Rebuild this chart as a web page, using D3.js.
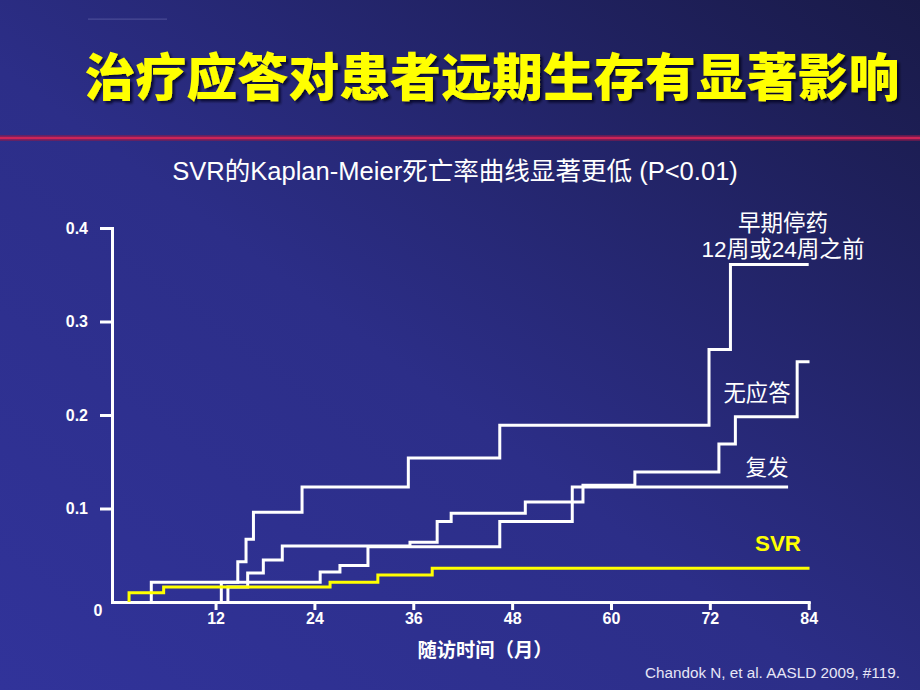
<!DOCTYPE html>
<html>
<head>
<meta charset="utf-8">
<script src="https://cdn.jsdelivr.net/npm/d3@7/dist/d3.min.js"></script>
<style>
  html, body { margin: 0; padding: 0; background: #22246a; }
  svg { display: block; }
  .lat { font-family: "Liberation Sans", Arial, "Noto Sans CJK SC", sans-serif; }
  .cjk { font-family: "Liberation Sans", Arial, "Noto Sans CJK SC", sans-serif; }
</style>
</head>
<body>
<script>
// ---------- data ----------
const xTicks = [12, 24, 36, 48, 60, 72, 84];
const yTicks = [0.1, 0.2, 0.3, 0.4];
const yTickLabels = ["0.1", "0.2", "0.3", "0.4"];

// Early discontinuation (before week 12 or 24)
const earlyTimes  = [4.2, 14.7, 15.7, 16.6, 22.5, 35.4, 46.5, 71.9, 74.5];
const earlyValues = [0.021, 0.043, 0.067, 0.096, 0.123, 0.154, 0.189, 0.270, 0.361];
const earlyEnd = 84;

// Non-response
const nonRespTimes  = [13.5, 15.9, 17.8, 20.1, 35.6, 38.9, 40.6, 49.6, 56.6, 62.9, 73.1, 75.1, 82.6];
const nonRespValues = [0.016, 0.031, 0.045, 0.060, 0.064, 0.086, 0.095, 0.107, 0.125, 0.139, 0.169, 0.198, 0.257];
const nonRespEnd = 84.1;

// Relapse
const relapseTimes  = [12.7, 24.7, 27.1, 30.5, 46.5, 55.3];
const relapseValues = [0.021, 0.032, 0.039, 0.059, 0.086, 0.123];
const relapseEnd = 81.5;

// SVR
const svrTimes  = [1.5, 5.7, 25.9, 31.7, 38.3];
const svrValues = [0.010, 0.016, 0.021, 0.029, 0.036];
const svrEnd = 84.1;

const seriesNames = ["早期停药", "无应答", "复发", "SVR"];

// ---------- drawing ----------
const W = 920, H = 690;
const svg = d3.select("body").append("svg").attr("width", W).attr("height", H);

const defs = svg.append("defs");
const bg = defs.append("linearGradient").attr("id", "bg")
  .attr("x1", "0").attr("y1", "1").attr("x2", "1").attr("y2", "0");
bg.append("stop").attr("offset", "0").attr("stop-color", "#31339a");
bg.append("stop").attr("offset", "0.45").attr("stop-color", "#2c2e88");
bg.append("stop").attr("offset", "1").attr("stop-color", "#191a48");
svg.append("rect").attr("width", W).attr("height", H).attr("fill", "url(#bg)");

const shadow = defs.append("filter").attr("id", "shadow")
  .attr("x", "-5%").attr("y", "-20%").attr("width", "110%").attr("height", "140%");
shadow.append("feDropShadow").attr("dx", 2.5).attr("dy", 2.5).attr("stdDeviation", 0.8)
  .attr("flood-color", "#05051a").attr("flood-opacity", 0.75);

// faint mark top-left
svg.append("rect").attr("x", 88).attr("y", 18.6).attr("width", 79).attr("height", 1)
  .attr("fill", "#8587c4").attr("opacity", 0.45);

function fit(sel, target) {
  const fs = parseFloat(sel.attr("font-size"));
  const w = sel.node().getComputedTextLength();
  if (w > 0) sel.attr("font-size", (fs * target / w).toFixed(2));
}

// title
const title = svg.append("text").attr("class", "cjk")
  .attr("x", 492).attr("y", 96).attr("text-anchor", "middle")
  .attr("font-size", 50).attr("font-weight", 900).attr("fill", "#ffff00")
  .attr("filter", "url(#shadow)")
  .text("治疗应答对患者远期生存有显著影响");
fit(title, 815);

// red rule
svg.append("line").attr("x1", 0).attr("x2", W).attr("y1", 138).attr("y2", 138)
  .attr("stroke", "#8c1a4c").attr("stroke-width", 6).attr("opacity", 0.6);
svg.append("line").attr("x1", 0).attr("x2", W).attr("y1", 138).attr("y2", 138)
  .attr("stroke", "#cc2458").attr("stroke-width", 2.5);

// subtitle
const sub = svg.append("text").attr("class", "lat")
  .attr("x", 455).attr("y", 180).attr("text-anchor", "middle")
  .attr("font-size", 22).attr("fill", "#ffffff")
  .text("SVR的Kaplan-Meier死亡率曲线显著更低 (P<0.01)");
fit(sub, 566);

// scales
const x = d3.scaleLinear().domain([-0.57, 84]).range([112, 808.7]);
const y = d3.scaleLinear().domain([0, 0.4]).range([602, 228]);

// axes
const yAxis = d3.axisLeft(y).tickValues(yTicks).tickSize(12).tickSizeOuter(0).tickPadding(12)
  .tickFormat((d, i) => yTickLabels[i]);
const gy = svg.append("g").attr("transform", `translate(${x.range()[0]},0)`).call(yAxis);

const xAxis = d3.axisBottom(x).tickValues(xTicks).tickSize(8).tickSizeOuter(0).tickPadding(3)
  .tickFormat(d3.format("d"));
const gx = svg.append("g").attr("transform", `translate(0,${y(0)})`).call(xAxis);

[gx, gy].forEach(g => {
  g.select(".domain").attr("stroke", "#ffffff").attr("stroke-width", 3).attr("stroke-linecap", "square");
  g.selectAll(".tick line").attr("stroke", "#ffffff").attr("stroke-width", 3);
  g.selectAll(".tick text").attr("fill", "#ffffff").attr("font-size", 16).attr("font-weight", "bold")
    .attr("font-family", "'Liberation Sans', Arial, sans-serif");
});

svg.append("text").attr("class", "lat").attr("x", 98).attr("y", 616).attr("text-anchor", "middle")
  .attr("font-size", 16).attr("font-weight", "bold").attr("fill", "#fff").text("0");

// x axis title
const xt = svg.append("text").attr("class", "cjk").attr("x", 485).attr("y", 657)
  .attr("text-anchor", "middle").attr("font-size", 19).attr("font-weight", "bold")
  .attr("fill", "#fff").text("随访时间（月）");
fit(xt, 135);

// curves
function stepPoints(times, values, end) {
  const pts = [[times[0], 0]];
  times.forEach((t, i) => pts.push([t, values[i]]));
  pts.push([end, values[values.length - 1]]);
  return pts;
}
const line = d3.line().x(d => x(d[0])).y(d => y(d[1])).curve(d3.curveStepAfter);

const curves = [
  { pts: stepPoints(earlyTimes, earlyValues, earlyEnd), color: "#ffffff" },
  { pts: stepPoints(nonRespTimes, nonRespValues, nonRespEnd), color: "#ffffff" },
  { pts: stepPoints(relapseTimes, relapseValues, relapseEnd), color: "#ffffff" },
  { pts: stepPoints(svrTimes, svrValues, svrEnd), color: "#ffff00" }
];
svg.append("g").selectAll("path").data(curves).join("path")
  .attr("d", d => line(d.pts))
  .attr("fill", "none").attr("stroke", d => d.color).attr("stroke-width", 3)
  .attr("stroke-linejoin", "miter");

// series labels
const l1 = svg.append("text").attr("class", "cjk").attr("x", 783).attr("y", 231)
  .attr("text-anchor", "middle").attr("font-size", 22).attr("fill", "#fff").text(seriesNames[0]);
fit(l1, 90);
const l1b = svg.append("text").attr("class", "cjk").attr("x", 783).attr("y", 257)
  .attr("text-anchor", "middle").attr("font-size", 22).attr("fill", "#fff").text("12周或24周之前");
fit(l1b, 163);
const l2 = svg.append("text").attr("class", "cjk").attr("x", 757).attr("y", 401)
  .attr("text-anchor", "middle").attr("font-size", 22).attr("fill", "#fff").text(seriesNames[1]);
fit(l2, 67);
const l3 = svg.append("text").attr("class", "cjk").attr("x", 767).attr("y", 475)
  .attr("text-anchor", "middle").attr("font-size", 22).attr("fill", "#fff").text(seriesNames[2]);
fit(l3, 43);
const l4 = svg.append("text").attr("class", "lat").attr("x", 778).attr("y", 551)
  .attr("text-anchor", "middle").attr("font-size", 21).attr("font-weight", "bold")
  .attr("fill", "#ffff00").text(seriesNames[3]);
fit(l4, 46);

// citation
const cit = svg.append("text").attr("class", "lat").attr("x", 645).attr("y", 678)
  .attr("font-size", 14).attr("fill", "#e6e6f6").text("Chandok N, et al. AASLD 2009, #119.");
fit(cit, 255);
</script>
</body>
</html>
